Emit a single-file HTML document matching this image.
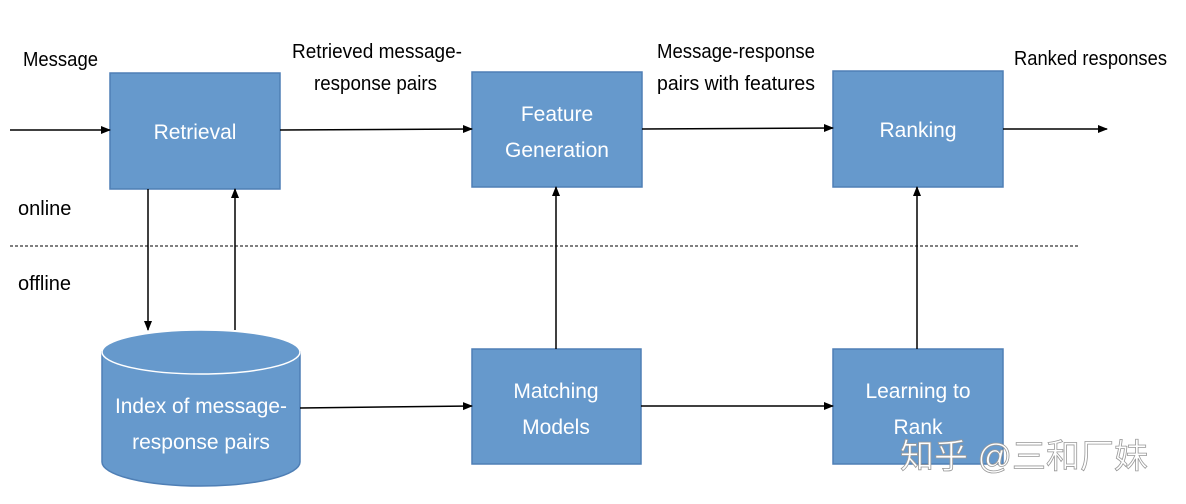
<!DOCTYPE html>
<html><head><meta charset="utf-8"><style>
html,body{margin:0;padding:0;background:#fff;width:1186px;height:504px;overflow:hidden}
svg text{font-family:"Liberation Sans","Noto Sans CJK SC",sans-serif}
</style></head><body>
<svg width="1186" height="504" viewBox="0 0 1186 504" xmlns="http://www.w3.org/2000/svg">
<defs><marker id="a" markerWidth="10" markerHeight="10" refX="9" refY="5" orient="auto" markerUnits="userSpaceOnUse"><path d="M0,1 L10,5 L0,9z" fill="#000"/></marker></defs>
<g fill="#6699cc" stroke="#4f7fb5" stroke-width="1.5">
<rect x="110" y="73" width="170" height="116"/>
<rect x="472" y="72" width="170" height="115"/>
<rect x="833" y="71" width="170" height="116"/>
<rect x="472" y="349" width="169" height="115"/>
<rect x="833" y="349" width="170" height="115"/>
<path d="M102,352 L102,462 A99,24 0 0 0 300,462 L300,352 Z"/>
</g>
<ellipse cx="201" cy="352" rx="99" ry="22" fill="#6699cc" stroke="#fff" stroke-width="1.5"/>
<g stroke="#000" stroke-width="1.5" fill="none" marker-end="url(#a)">
<line x1="10" y1="130" x2="110" y2="130"/>
<line x1="280" y1="130" x2="472" y2="129"/>
<line x1="642" y1="129" x2="833" y2="128"/>
<line x1="1003" y1="129" x2="1107" y2="129"/>
<line x1="148" y1="189" x2="148" y2="330"/>
<line x1="235" y1="330" x2="235" y2="189"/>
<line x1="556" y1="349" x2="556" y2="187"/>
<line x1="917" y1="349" x2="917" y2="187"/>
<line x1="300" y1="408" x2="472" y2="406"/>
<line x1="641" y1="406" x2="833" y2="406"/>
</g>
<line x1="10" y1="246" x2="1080" y2="246" stroke="#000" stroke-width="1" stroke-dasharray="3,2"/>
<g font-size="20" fill="#000">
<text x="23" y="66" textLength="75" lengthAdjust="spacingAndGlyphs">Message</text>
<text x="292" y="58" textLength="170" lengthAdjust="spacingAndGlyphs">Retrieved message-</text>
<text x="314" y="90" textLength="123" lengthAdjust="spacingAndGlyphs">response pairs</text>
<text x="657" y="58" textLength="158" lengthAdjust="spacingAndGlyphs">Message-response</text>
<text x="657" y="90" textLength="158" lengthAdjust="spacingAndGlyphs">pairs with features</text>
<text x="1014" y="65" textLength="153" lengthAdjust="spacingAndGlyphs">Ranked responses</text>
<text x="18" y="215">online</text>
<text x="18" y="290">offline</text>
</g>
<g font-size="21" fill="#fff" text-anchor="middle">
<text x="195" y="139">Retrieval</text>
<text x="557" y="121">Feature</text>
<text x="557" y="157">Generation</text>
<text x="918" y="137">Ranking</text>
<text x="556" y="398">Matching</text>
<text x="556" y="434">Models</text>
<text x="918" y="398">Learning to</text>
<text x="918" y="434">Rank</text>
<text x="201" y="413" textLength="172" lengthAdjust="spacingAndGlyphs">Index of message-</text>
<text x="201" y="449">response pairs</text>
</g>
<text x="900" y="468" font-size="34" fill="#fff" stroke="#999" stroke-width="0.8">知乎 @三和厂妹</text>
</svg>
</body></html>
